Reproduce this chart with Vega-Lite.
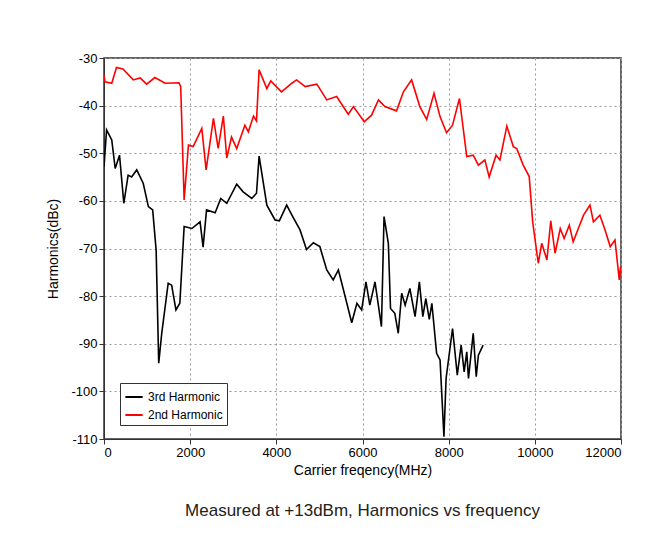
{
  "$schema": "https://vega.github.io/schema/vega-lite/v6.json",
  "autosize": "none",
  "width": 517,
  "height": 381,
  "padding": {"left": 104, "top": 58, "right": 46, "bottom": 112},
  "background": "white",
  "title": {
    "text": "Measured at +13dBm, Harmonics vs frequency",
    "orient": "bottom",
    "offset": 26,
    "fontSize": 17,
    "font": "Liberation Sans",
    "fontWeight": "normal",
    "color": "#222"
  },
  "config": {
    "view": {"stroke": "#333", "strokeWidth": 1.5},
    "axis": {
      "labelFont": "Liberation Sans", "labelFontSize": 13, "labelColor": "#000",
      "titleFont": "Liberation Sans", "titleFontSize": 14, "titleFontWeight": "normal", "titleColor": "#000",
      "gridColor": "#999", "gridDash": [2, 3], "gridWidth": 1,
      "domainColor": "#333", "tickColor": "#333", "tickSize": 5
    }
  },
  "datasets": {
    "h2": [
      {"f": 0, "db": -33.5}, {"f": 23, "db": -35.0}, {"f": 180, "db": -35.3}, {"f": 290, "db": -32.0}, {"f": 440, "db": -32.3},
      {"f": 680, "db": -34.6}, {"f": 840, "db": -34.2}, {"f": 990, "db": -35.5}, {"f": 1180, "db": -34.1}, {"f": 1420, "db": -35.3},
      {"f": 1740, "db": -35.2}, {"f": 1780, "db": -36}, {"f": 1860, "db": -59.8}, {"f": 1960, "db": -48.3}, {"f": 2070, "db": -48.6},
      {"f": 2270, "db": -44.8}, {"f": 2370, "db": -53.5}, {"f": 2540, "db": -42.7}, {"f": 2650, "db": -49}, {"f": 2770, "db": -42.2},
      {"f": 2850, "db": -51}, {"f": 2960, "db": -46.6}, {"f": 3080, "db": -49}, {"f": 3270, "db": -44.1}, {"f": 3350, "db": -45.5},
      {"f": 3470, "db": -42.2}, {"f": 3540, "db": -43.2}, {"f": 3600, "db": -32.5}, {"f": 3780, "db": -36.4}, {"f": 3870, "db": -34.8},
      {"f": 4120, "db": -37.1}, {"f": 4360, "db": -35.3}, {"f": 4470, "db": -34.6}, {"f": 4670, "db": -36}, {"f": 4940, "db": -35.5},
      {"f": 5170, "db": -38.8}, {"f": 5400, "db": -38.1}, {"f": 5670, "db": -41.8}, {"f": 5790, "db": -40.2}, {"f": 6040, "db": -43.4},
      {"f": 6210, "db": -42}, {"f": 6370, "db": -38.8}, {"f": 6520, "db": -40.2}, {"f": 6790, "db": -41.1}, {"f": 6950, "db": -37.1},
      {"f": 7140, "db": -34.6}, {"f": 7330, "db": -40.2}, {"f": 7490, "db": -42.9}, {"f": 7660, "db": -37.4}, {"f": 7800, "db": -42.3},
      {"f": 7950, "db": -45.7}, {"f": 8090, "db": -44.1}, {"f": 8250, "db": -38.5}, {"f": 8420, "db": -50.7}, {"f": 8570, "db": -50.4},
      {"f": 8690, "db": -52.5}, {"f": 8840, "db": -51.4}, {"f": 8940, "db": -55}, {"f": 9100, "db": -50.4}, {"f": 9190, "db": -51.4},
      {"f": 9350, "db": -44.3}, {"f": 9500, "db": -48.6}, {"f": 9580, "db": -49}, {"f": 9730, "db": -52.5}, {"f": 9870, "db": -54.9},
      {"f": 9950, "db": -64.4}, {"f": 10080, "db": -73.1}, {"f": 10160, "db": -68.9}, {"f": 10280, "db": -72.4}, {"f": 10370, "db": -64.2},
      {"f": 10470, "db": -71}, {"f": 10590, "db": -65.8}, {"f": 10680, "db": -67.9}, {"f": 10800, "db": -65.1}, {"f": 10890, "db": -68.6},
      {"f": 11010, "db": -65.8}, {"f": 11130, "db": -63}, {"f": 11280, "db": -60.9}, {"f": 11360, "db": -64.4}, {"f": 11510, "db": -63},
      {"f": 11630, "db": -66.1}, {"f": 11750, "db": -69.6}, {"f": 11860, "db": -68.2}, {"f": 11960, "db": -76.6}, {"f": 11990, "db": -73.8}
    ],
    "h3": [
      {"f": 0, "db": -52.8}, {"f": 60, "db": -45.1}, {"f": 180, "db": -47.2}, {"f": 260, "db": -53.2}, {"f": 360, "db": -50.4},
      {"f": 460, "db": -60.5}, {"f": 560, "db": -54.6}, {"f": 640, "db": -55}, {"f": 760, "db": -53.5}, {"f": 910, "db": -56.3},
      {"f": 1030, "db": -61.2}, {"f": 1130, "db": -61.9}, {"f": 1210, "db": -70.3}, {"f": 1270, "db": -94.1}, {"f": 1340, "db": -87.8},
      {"f": 1490, "db": -77.3}, {"f": 1570, "db": -77.7}, {"f": 1670, "db": -82.9}, {"f": 1760, "db": -81.5}, {"f": 1860, "db": -65.4},
      {"f": 2040, "db": -65.8}, {"f": 2230, "db": -64.4}, {"f": 2300, "db": -69.7}, {"f": 2380, "db": -61.9}, {"f": 2580, "db": -62.5},
      {"f": 2710, "db": -59.5}, {"f": 2850, "db": -60.5}, {"f": 3080, "db": -56.5}, {"f": 3230, "db": -58.1}, {"f": 3430, "db": -59.5},
      {"f": 3540, "db": -58.4}, {"f": 3600, "db": -50.6}, {"f": 3780, "db": -60.9}, {"f": 3970, "db": -64}, {"f": 4070, "db": -64.2},
      {"f": 4240, "db": -60.9}, {"f": 4380, "db": -63.3}, {"f": 4550, "db": -66.1}, {"f": 4700, "db": -70.2}, {"f": 4860, "db": -68.8},
      {"f": 5010, "db": -69.6}, {"f": 5170, "db": -74.5}, {"f": 5320, "db": -76.6}, {"f": 5440, "db": -74.5}, {"f": 5550, "db": -78.4},
      {"f": 5750, "db": -85.6}, {"f": 5870, "db": -81.5}, {"f": 5980, "db": -82.9}, {"f": 6080, "db": -77}, {"f": 6170, "db": -81.9},
      {"f": 6290, "db": -77}, {"f": 6440, "db": -86.4}, {"f": 6500, "db": -63.3}, {"f": 6600, "db": -68.9}, {"f": 6650, "db": -82.6},
      {"f": 6750, "db": -83.6}, {"f": 6830, "db": -87.8}, {"f": 6910, "db": -79.4}, {"f": 6990, "db": -81.9}, {"f": 7100, "db": -78.4},
      {"f": 7220, "db": -84.3}, {"f": 7320, "db": -77}, {"f": 7400, "db": -84.3}, {"f": 7470, "db": -80.5}, {"f": 7550, "db": -84.9},
      {"f": 7610, "db": -81.5}, {"f": 7720, "db": -92}, {"f": 7800, "db": -93.4}, {"f": 7890, "db": -109.5}, {"f": 7940, "db": -97.3},
      {"f": 8090, "db": -86.8}, {"f": 8200, "db": -96.6}, {"f": 8290, "db": -90.3}, {"f": 8360, "db": -95.9}, {"f": 8420, "db": -91.7},
      {"f": 8460, "db": -97.3}, {"f": 8570, "db": -87.8}, {"f": 8640, "db": -96.9}, {"f": 8690, "db": -92.4}, {"f": 8800, "db": -90.3}
    ]
  },
  "layer": [
    {
      "data": {"name": "h3"},
      "transform": [{"calculate": "'3rd Harmonic'", "as": "series"}],
      "mark": {"type": "line", "strokeWidth": 1.6, "clip": true},
      "encoding": {
        "x": {"field": "f", "type": "quantitative"},
        "y": {"field": "db", "type": "quantitative"},
        "color": {"field": "series", "type": "nominal"}
      }
    },
    {
      "data": {"name": "h2"},
      "transform": [{"calculate": "'2nd Harmonic'", "as": "series"}],
      "mark": {"type": "line", "strokeWidth": 1.6, "clip": true},
      "encoding": {
        "x": {
          "field": "f", "type": "quantitative",
          "scale": {"domain": [0, 12000], "nice": false},
          "axis": {"title": "Carrier freqency(MHz)", "values": [0, 2000, 4000, 6000, 8000, 10000, 12000], "labelExpr": "'' + datum.value", "titlePadding": 4}
        },
        "y": {
          "field": "db", "type": "quantitative",
          "scale": {"domain": [-110, -30], "nice": false, "zero": false},
          "axis": {"title": "Harmonics(dBc)", "values": [-110, -100, -90, -80, -70, -60, -50, -40, -30], "labelExpr": "'' + datum.value", "titlePadding": 10}
        },
        "color": {
          "field": "series", "type": "nominal",
          "scale": {"domain": ["3rd Harmonic", "2nd Harmonic"], "range": ["black", "red"]},
          "legend": {
            "title": null, "orient": "none", "legendX": 16, "legendY": 325,
            "symbolType": "stroke", "symbolStrokeWidth": 2, "symbolSize": 300,
            "labelFont": "Liberation Sans", "labelFontSize": 12, "labelColor": "#000",
            "strokeColor": "#333", "padding": 4, "rowPadding": 2, "fillColor": "white"
          }
        }
      }
    }
  ]
}
